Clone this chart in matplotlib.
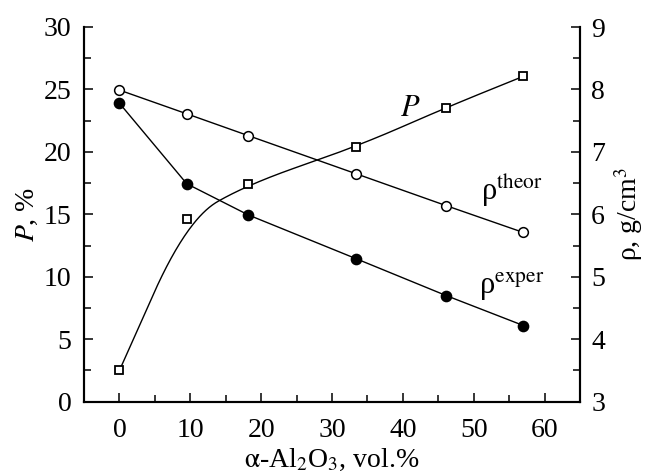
import numpy as np
import matplotlib
matplotlib.use("Agg")
import matplotlib.pyplot as plt
from matplotlib.ticker import MultipleLocator

plt.rcParams['font.family'] = ['Liberation Serif', 'DejaVu Serif']
plt.rcParams['mathtext.fontset'] = 'stix'

# Data
x_al2o3 = [0.0, 9.5, 18.2, 33.4, 46.1, 57.0]
P_percent = [2.5, 14.6, 17.44, 20.4, 23.55, 26.05]
rho_theor = [7.99, 7.61, 7.26, 6.65, 6.14, 5.71]
rho_exper = [7.78, 6.49, 5.99, 5.29, 4.70, 4.22]

x_ticks = [0, 10, 20, 30, 40, 50, 60]
P_ticks = [0, 5, 10, 15, 20, 25, 30]
rho_ticks = [3, 4, 5, 6, 7, 8, 9]


def quad_bspline(xs, ys, n=60):
    # uniform quadratic B-spline, endpoints repeated
    px = np.r_[xs[0], xs, xs[-1]]
    py = np.r_[ys[0], ys, ys[-1]]
    t = np.linspace(0, 1, n)
    b0 = 0.5 * (1 - t) ** 2
    b1 = 0.5 + t - t ** 2
    b2 = 0.5 * t ** 2
    cx, cy = [], []
    for i in range(len(px) - 2):
        cx.append(b0 * px[i] + b1 * px[i + 1] + b2 * px[i + 2])
        cy.append(b0 * py[i] + b1 * py[i + 1] + b2 * py[i + 2])
    return np.concatenate(cx), np.concatenate(cy)


FS = 20

fig = plt.figure(figsize=(6.45, 4.74), dpi=100)
ax = fig.add_axes([84 / 645, 1 - 401.7 / 474, (580 - 84) / 645, (401.7 - 27) / 474])
ax2 = ax.twinx()

lw = 1.0
ms = 7
mew = 1.1

# P curve
cx, cy = quad_bspline(np.array(x_al2o3), np.array(P_percent))
ax.plot(cx, cy, color='black', lw=lw, zorder=2)
ax.plot(x_al2o3, P_percent, ls='none', marker='s', ms=5.6, mfc='white', mec='black', mew=1.3, zorder=3)

# densities
ax2.plot(x_al2o3, rho_theor, color='black', lw=lw, marker='o', ms=ms, mfc='white', mec='black', mew=mew)
ax2.plot(x_al2o3, rho_exper, color='black', lw=lw, marker='o', ms=ms + 0.3, mfc='black', mec='black', mew=mew)

ax.set_xlim(-5, 65)
ax.set_ylim(0, 30)
ax2.set_ylim(3, 9)

ax.set_xticks(x_ticks)
ax.set_yticks(P_ticks)
ax2.set_yticks(rho_ticks)
ax.xaxis.set_minor_locator(MultipleLocator(5))
ax.yaxis.set_minor_locator(MultipleLocator(2.5))
ax2.yaxis.set_minor_locator(MultipleLocator(0.5))

for a in (ax, ax2):
    a.spines['top'].set_visible(False)
    for s in a.spines.values():
        s.set_linewidth(1.5)
    a.tick_params(which='major', direction='in', length=6.5, width=1.1, labelsize=FS)
    a.tick_params(which='minor', direction='in', length=4.8, width=1.1)
ax.tick_params(axis='x', which='both', top=False)
ax.tick_params(axis='x', pad=12)
ax.tick_params(axis='y', pad=9)
ax2.tick_params(axis='y', pad=8)

ax.set_xlabel(r'$\mathrm{\alpha}$-Al$_2$O$_3$, vol.%', fontsize=FS, labelpad=2.5)
ax.set_ylabel(r'$P$, %', fontsize=FS, labelpad=3)
ax2.set_ylabel(r'ρ, g/cm$^3$', fontsize=FS, labelpad=5)

ax.text(39.6, 22.9, r'$P$', fontsize=FS + 2, ha='left', va='baseline')
ax.text(51.0, 16.1, r'ρ$^{\mathrm{theor}}$', fontsize=FS + 2, ha='left', va='baseline')
ax.text(50.8, 8.67, r'ρ$^{\mathrm{exper}}$', fontsize=FS + 2, ha='left', va='baseline')

fig.savefig('out.png', dpi=100)
